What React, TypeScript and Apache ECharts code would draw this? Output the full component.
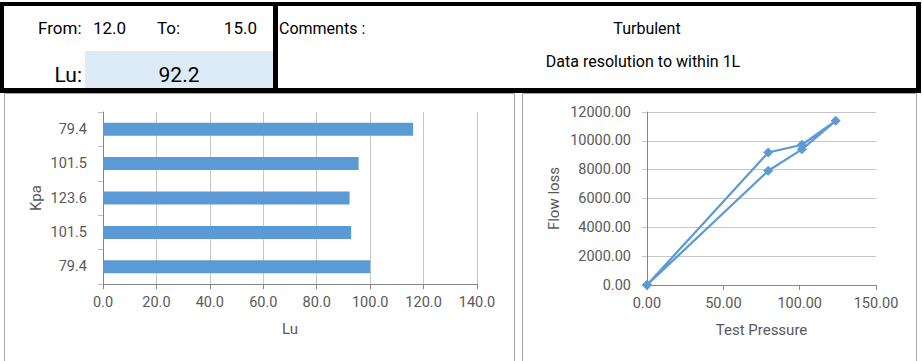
import React, { useEffect, useRef } from "react";
import * as echarts from "echarts";

// ---- Data ----
const fromValue = "12.0";
const toValue = "15.0";
const luResult = "92.2";
const commentLines = ["Turbulent", "Data resolution to within 1L"];

// bar chart (bottom to top)
const pressureCategories = ["79.4", "101.5", "123.6", "101.5", "79.4"];
const luValues = [100.0, 92.9, 92.3, 95.7, 116.1];
const luTicks = { min: 0, max: 140, interval: 20 };

// line chart (test sequence)
const testPressure = [0, 79.4, 101.5, 123.6, 101.5, 79.4, 0];
const flowLoss = [0, 7920, 9410, 11390, 9730, 9190, 0];
const pressureTicks = { min: 0, max: 150, interval: 50 };
const flowTicks = { min: 0, max: 12000, interval: 2000 };

const FONT = "Roboto";
const BLUE = "#5B9BD5";
const LABEL = "#595959";
const AXIS = "#868686";
const GRID = "#c6c6c6";
const TICK_FS = 14.5;

export default function App() {
  const ref = useRef<HTMLDivElement>(null);

  useEffect(() => {
    if (!ref.current) return;
    const chart = echarts.init(ref.current, null, { renderer: "svg" });

    const headerText = (text: string, x: number, y: number, size: number, align: string) => ({
      type: "text",
      x,
      y,
      z: 20,
      style: {
        text,
        fontFamily: FONT,
        fontSize: size,
        fill: "#000",
        align,
        verticalAlign: "middle",
      },
    });
    const blk = (x: number, y: number, w: number, h: number) => ({
      type: "rect",
      z: 15,
      shape: { x, y, width: w, height: h },
      style: { fill: "#000" },
    });

    const option: any = {
      animation: false,
      textStyle: { fontFamily: FONT },
      graphic: [
        // chart frames
        {
          type: "rect",
          z: 1,
          shape: { x: 4.5, y: 93.5, width: 510, height: 300 },
          style: { fill: "none", stroke: "#a6a6a6", lineWidth: 1 },
        },
        {
          type: "rect",
          z: 1,
          shape: { x: 522.5, y: 93.5, width: 394, height: 300 },
          style: { fill: "none", stroke: "#a6a6a6", lineWidth: 1 },
        },
        // header fill
        {
          type: "rect",
          z: 10,
          shape: { x: 0, y: 2, width: 921, height: 90 },
          style: { fill: "#fff" },
        },
        {
          type: "rect",
          z: 11,
          shape: { x: 85, y: 51, width: 188, height: 37 },
          style: { fill: "#DDEBF7" },
        },
        // header borders
        blk(0, 2, 921, 4),
        blk(0, 88, 921, 5),
        blk(0, 2, 4, 91),
        blk(273, 2, 5, 91),
        blk(916, 2, 5, 91),
        // header texts
        headerText("From:", 38, 28, 17, "left"),
        headerText(fromValue, 93, 28, 17, "left"),
        headerText("To:", 157, 28, 17, "left"),
        headerText(toValue, 257, 28, 17, "right"),
        headerText("Lu:", 82, 75, 21, "right"),
        headerText(luResult, 179, 75, 21, "center"),
        headerText("Comments :", 279, 28, 16, "left"),
        headerText(commentLines[0], 647, 28, 16, "center"),
        headerText(commentLines[1], 643, 61, 16, "center"),
      ],
      grid: [
        { left: 103, right: 445, top: 112, bottom: 77 },
        { left: 647, right: 46, top: 112, bottom: 76 },
      ],
      xAxis: [
        {
          gridIndex: 0,
          type: "value",
          ...luTicks,
          name: "Lu",
          nameLocation: "middle",
          nameGap: 37,
          nameTextStyle: { color: LABEL, fontSize: 15, fontFamily: FONT },
          axisLine: { show: true, lineStyle: { color: AXIS, width: 1 } },
          axisTick: { show: true, length: 5, lineStyle: { color: AXIS } },
          axisLabel: {
            color: LABEL,
            fontSize: TICK_FS,
            fontFamily: FONT,
            margin: 11,
            formatter: (v: number) => v.toFixed(1),
          },
          splitLine: { show: true, lineStyle: { color: GRID, width: 1 } },
        },
        {
          gridIndex: 1,
          type: "value",
          ...pressureTicks,
          name: "Test Pressure",
          nameLocation: "middle",
          nameGap: 37,
          nameTextStyle: { color: LABEL, fontSize: 15, fontFamily: FONT },
          axisLine: { show: true, lineStyle: { color: AXIS, width: 1 } },
          axisTick: { show: true, length: 5, lineStyle: { color: AXIS } },
          axisLabel: {
            color: LABEL,
            fontSize: TICK_FS,
            fontFamily: FONT,
            margin: 11,
            formatter: (v: number) => v.toFixed(2),
          },
          splitLine: { show: false },
        },
      ],
      yAxis: [
        {
          gridIndex: 0,
          type: "category",
          data: pressureCategories,
          name: "Kpa",
          nameLocation: "middle",
          nameRotate: 90,
          nameGap: 60,
          nameTextStyle: { color: LABEL, fontSize: 15, fontFamily: FONT },
          axisLine: { show: true, lineStyle: { color: AXIS, width: 1 } },
          axisTick: { show: true, length: 5, lineStyle: { color: "#bfbfbf" } },
          axisLabel: { color: LABEL, fontSize: TICK_FS, fontFamily: FONT, margin: 16 },
          splitLine: { show: false },
        },
        {
          gridIndex: 1,
          type: "value",
          ...flowTicks,
          name: "Flow loss",
          nameLocation: "middle",
          nameRotate: 90,
          nameGap: 86,
          nameTextStyle: { color: LABEL, fontSize: 15, fontFamily: FONT },
          axisLine: { show: true, lineStyle: { color: AXIS, width: 1 } },
          axisTick: { show: true, length: 5, lineStyle: { color: GRID } },
          axisLabel: {
            color: LABEL,
            fontSize: TICK_FS,
            fontFamily: FONT,
            margin: 16,
            formatter: (v: number) => v.toFixed(2),
          },
          splitLine: { show: true, lineStyle: { color: GRID, width: 1 } },
        },
      ],
      series: [
        {
          type: "bar",
          xAxisIndex: 0,
          yAxisIndex: 0,
          data: luValues,
          barWidth: 13,
          itemStyle: { color: BLUE },
        },
        {
          type: "line",
          xAxisIndex: 1,
          yAxisIndex: 1,
          data: testPressure.map((p, i) => [p, flowLoss[i]]),
          symbol: "diamond",
          symbolSize: 10,
          showSymbol: true,
          itemStyle: { color: BLUE },
          lineStyle: { color: BLUE, width: 2.25 },
        },
      ],
    };

    chart.setOption(option);
    return () => chart.dispose();
  }, []);

  return (
    <div
      ref={ref}
      style={{ position: "absolute", left: 0, top: 0, width: 922, height: 361, background: "#fff" }}
    />
  );
}
